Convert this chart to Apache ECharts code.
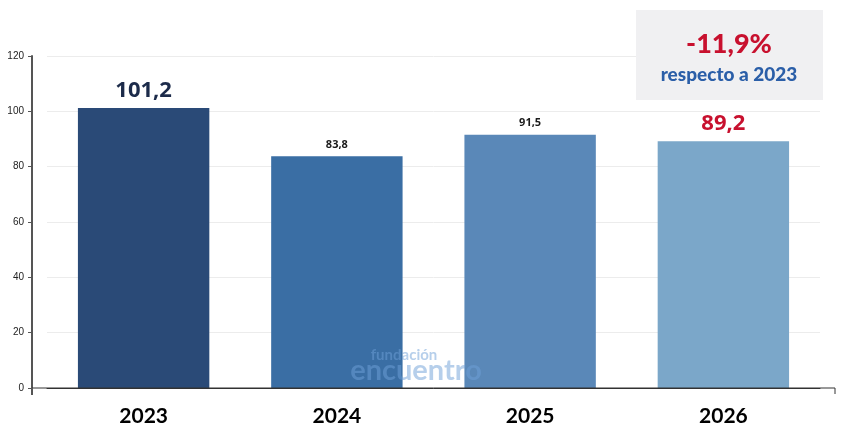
<!DOCTYPE html>
<html>
<head>
<meta charset="utf-8">
<script src="https://cdn.jsdelivr.net/npm/echarts@6/dist/echarts.min.js"></script>
<style>html,body{margin:0;padding:0;background:#fff}#c{width:850px;height:440px}</style>
</head>
<body>
<div id="c"></div>
<script>
const categories = ['2023', '2024', '2025', '2026'];
const values = [101.2, 83.8, 91.5, 89.2];
const yTicks = [0, 20, 40, 60, 80, 100, 120];
const changeText = '-11,9%';
const changeSub = 'respecto a 2023';

const barColors = ['#2a4a77', '#3a6ea4', '#5a88b8', '#7ba7c9'];
const labelStyles = [
  {fontSize: 22, color: '#1c2b4a'},
  {fontSize: 11, color: '#1a1a1a'},
  {fontSize: 11, color: '#1a1a1a'},
  {fontSize: 22, color: '#c8102e'}
];

const fmt = v => v.toFixed(1).replace('.', ',');

const chart = echarts.init(document.getElementById('c'));
chart.setOption({
  animation: false,
  grid: {left: 47, right: 30, top: 56, bottom: 52},
  xAxis: {
    type: 'category',
    data: categories,
    axisLine: {lineStyle: {color: '#333', width: 1}},
    axisTick: {show: false},
    axisLabel: {fontFamily: 'Lato', fontWeight: 'bold', fontSize: 21, color: '#000', margin: 18}
  },
  yAxis: {
    type: 'value',
    min: yTicks[0],
    max: yTicks[yTicks.length - 1],
    interval: 20,
    offset: 15,
    axisLine: {show: true, lineStyle: {color: '#555', width: 2}},
    axisTick: {show: true, length: 4, lineStyle: {color: '#555'}},
    axisLabel: {fontFamily: 'Liberation Sans', fontSize: 10, color: '#222', margin: 8},
    splitLine: {lineStyle: {color: '#ececec'}}
  },
  series: [{
    type: 'bar',
    barWidth: '68%',
    data: values.map((v, i) => ({
      value: v,
      itemStyle: {color: barColors[i]},
      label: {fontSize: labelStyles[i].fontSize, color: labelStyles[i].color}
    })),
    label: {
      show: true,
      position: 'top',
      distance: 6,
      fontFamily: 'Open Sans',
      fontWeight: 'bold',
      formatter: p => fmt(p.value)
    }
  }],
  graphic: [
    {type: 'line', z: 5, shape: {x1: 32, y1: 388, x2: 835, y2: 388}, style: {stroke: '#333', lineWidth: 1}},
    {type: 'line', z: 5, shape: {x1: 835, y1: 388, x2: 835, y2: 394}, style: {stroke: '#333', lineWidth: 1}},
    {type: 'line', z: 5, shape: {x1: 32, y1: 388, x2: 32, y2: 395}, style: {stroke: '#555', lineWidth: 2}},
    {type: 'rect', left: 636, top: 10, shape: {width: 187, height: 90}, style: {fill: '#f0f0f2'}, z: 10},
    {type: 'text', x: 729, y: 44, z: 11, style: {text: changeText, align: 'center', verticalAlign: 'middle', fontFamily: 'Lato', fontWeight: 900, fontSize: 27, fill: '#c8102e'}},
    {type: 'text', x: 729, y: 75, z: 11, style: {text: changeSub, align: 'center', verticalAlign: 'middle', fontFamily: 'Lato', fontWeight: 900, fontSize: 19, fill: '#2a5ea8'}},
    {type: 'text', x: 404, y: 355, z: 11, style: {text: 'fundación', align: 'center', verticalAlign: 'middle', fontFamily: 'Lato', fontWeight: 'bold', fontSize: 15, fill: 'rgba(110,160,215,0.5)'}},
    {type: 'text', x: 416, y: 371, z: 11, style: {text: 'encuentro', align: 'center', verticalAlign: 'middle', fontFamily: 'Lato', fontWeight: 'bold', fontSize: 29, fill: 'rgba(110,160,215,0.5)'}}
  ]
});
</script>
</body>
</html>
